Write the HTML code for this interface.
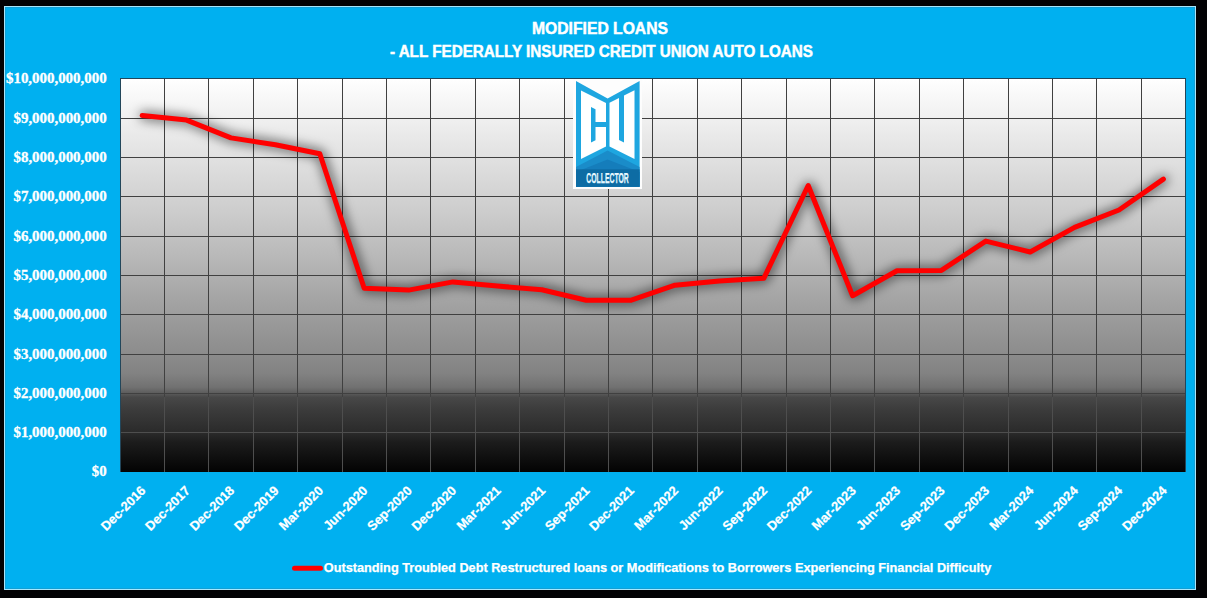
<!DOCTYPE html>
<html><head><meta charset="utf-8"><title>Modified Loans</title><style>
html,body{margin:0;padding:0;background:#000;}
body{width:1207px;height:598px;overflow:hidden;}
svg{display:block;}
.t{font-family:"Liberation Sans",sans-serif;font-weight:bold;fill:#fff;stroke:#fff;stroke-width:0.25px;}
.s{font-family:"Liberation Serif",serif;font-weight:bold;fill:#fff;stroke:#fff;stroke-width:0.3px;}
</style></head><body>
<svg width="1207" height="598" viewBox="0 0 1207 598">
<defs>
<linearGradient id="pg" x1="0" y1="0" x2="0" y2="1"><stop offset="0" stop-color="#ffffff"/><stop offset="0.35" stop-color="#cbcbcb"/><stop offset="0.63" stop-color="#989898"/><stop offset="0.7" stop-color="#8c8c8c"/><stop offset="0.75" stop-color="#828282"/><stop offset="0.785" stop-color="#717171"/><stop offset="0.8" stop-color="#5c5c5c"/><stop offset="0.81" stop-color="#484848"/><stop offset="0.84" stop-color="#3c3c3c"/><stop offset="0.9" stop-color="#2a2a2a"/><stop offset="0.925" stop-color="#1c1c1c"/><stop offset="1.0" stop-color="#030303"/></linearGradient>
<filter id="sh" x="-10%" y="-20%" width="120%" height="140%"><feGaussianBlur stdDeviation="6"/></filter>
</defs>
<rect x="0" y="0" width="1207" height="598" fill="#020204"/>
<rect x="4.5" y="6.5" width="1191" height="583" fill="#00b0f0" stroke="#a6e6fc" stroke-width="1"/>
<rect x="5.5" y="7.5" width="1189" height="581" fill="none" stroke="#12a0d6" stroke-width="1"/>
<rect x="120" y="78" width="1066" height="394" fill="url(#pg)"/>
<path d="M120,118.5H1186 M120,157.5H1186 M120,196.5H1186 M120,236.5H1186 M120,275.5H1186 M120,314.5H1186 M120,354.5H1186 M120,393.5H1186 M164.5,78V397 M208.5,78V397 M253.5,78V397 M297.5,78V397 M342.5,78V397 M386.5,78V397 M430.5,78V397 M475.5,78V397 M519.5,78V397 M564.5,78V397 M608.5,78V397 M652.5,78V397 M697.5,78V397 M741.5,78V397 M786.5,78V397 M830.5,78V397 M874.5,78V397 M919.5,78V397 M963.5,78V397 M1008.5,78V397 M1052.5,78V397 M1096.5,78V397 M1141.5,78V397" stroke="#404040" stroke-width="1" fill="none" shape-rendering="crispEdges"/>
<path d="M120,432.5H1186 M164.5,397V472 M208.5,397V472 M253.5,397V472 M297.5,397V472 M342.5,397V472 M386.5,397V472 M430.5,397V472 M475.5,397V472 M519.5,397V472 M564.5,397V472 M608.5,397V472 M652.5,397V472 M697.5,397V472 M741.5,397V472 M786.5,397V472 M830.5,397V472 M874.5,397V472 M919.5,397V472 M963.5,397V472 M1008.5,397V472 M1052.5,397V472 M1096.5,397V472 M1141.5,397V472" stroke="#4e4e4e" stroke-width="1" fill="none" shape-rendering="crispEdges"/>
<path d="M120,78.5H1186 M120.5,78V472 M1185.5,78V472" stroke="#22465a" stroke-width="1" fill="none"/>
<g id="logo"><rect x="573" y="79" width="69" height="110" fill="#fdfdfd"/><polygon points="576,81 607.6,98.6 639.6,81 639.6,186.8 576,186.8" fill="#1ea6e0"/><polygon points="581,90.5 606,103 606,146.5 581,159" fill="#ffffff"/><polygon points="609.5,102.8 634.5,90.3 634.5,159 609.5,146.5" fill="#ffffff"/><polygon points="591,107 595.5,109.3 595.5,122 606,122 606,127 595.5,127 595.5,140.3 591,142.5" fill="#1ea6e0"/><polygon points="619,97 624,94.5 624,142.5 619,140" fill="#1ea6e0"/><polygon points="576,167 607.6,150.5 639.6,167 639.6,186.8 576,186.8" fill="#1a8cc9"/><polygon points="576,172 607.6,159.5 639.6,172 639.6,186.8 576,186.8" fill="#157dbb"/><rect x="576" y="169.3" width="63.6" height="17.5" fill="#0d6ca4"/><text x="586.3" y="182.9" class="t" style="font-size:14px;fill:#dff6ff" textLength="42.5" lengthAdjust="spacingAndGlyphs">COLLECTOR</text></g>
<polyline transform="translate(1,0.3)" points="142.2,115.5 186.6,120.1 231.0,137.9 275.4,144.7 319.8,153.7 364.2,288.3 408.6,290.1 453.0,281.9 497.4,286.1 541.8,289.7 586.2,300.3 630.6,300.3 675.0,285.2 719.4,280.9 763.8,278.3 808.2,185.5 852.6,295.7 897.0,270.7 941.4,270.4 985.8,241.1 1030.2,252.0 1074.6,227.4 1119.0,210.0 1163.4,179.1" fill="none" stroke="#000" stroke-opacity="0.7" stroke-width="7" stroke-linejoin="round" stroke-linecap="round" filter="url(#sh)"/>
<polyline points="142.2,115.5 186.6,120.1 231.0,137.9 275.4,144.7 319.8,153.7 364.2,288.3 408.6,290.1 453.0,281.9 497.4,286.1 541.8,289.7 586.2,300.3 630.6,300.3 675.0,285.2 719.4,280.9 763.8,278.3 808.2,185.5 852.6,295.7 897.0,270.7 941.4,270.4 985.8,241.1 1030.2,252.0 1074.6,227.4 1119.0,210.0 1163.4,179.1" fill="none" stroke="#ff0000" stroke-width="5" stroke-linejoin="round" stroke-linecap="round"/>
<text x="600" y="33.8" class="t" text-anchor="middle" style="font-size:15.6px;stroke-width:0.45px" textLength="136" lengthAdjust="spacingAndGlyphs">MODIFIED LOANS</text>
<text x="601.4" y="57" class="t" text-anchor="middle" style="font-size:15.6px;stroke-width:0.45px" textLength="423" lengthAdjust="spacingAndGlyphs">- ALL FEDERALLY INSURED CREDIT UNION AUTO LOANS</text>
<text x="106.6" y="82.9" class="s" text-anchor="end" style="font-size:13.8px" textLength="100.6" lengthAdjust="spacingAndGlyphs">$10,000,000,000</text>
<text x="106.6" y="122.9" class="s" text-anchor="end" style="font-size:13.8px" textLength="93.1" lengthAdjust="spacingAndGlyphs">$9,000,000,000</text>
<text x="106.6" y="161.9" class="s" text-anchor="end" style="font-size:13.8px" textLength="93.1" lengthAdjust="spacingAndGlyphs">$8,000,000,000</text>
<text x="106.6" y="200.9" class="s" text-anchor="end" style="font-size:13.8px" textLength="93.1" lengthAdjust="spacingAndGlyphs">$7,000,000,000</text>
<text x="106.6" y="240.9" class="s" text-anchor="end" style="font-size:13.8px" textLength="93.1" lengthAdjust="spacingAndGlyphs">$6,000,000,000</text>
<text x="106.6" y="279.9" class="s" text-anchor="end" style="font-size:13.8px" textLength="93.1" lengthAdjust="spacingAndGlyphs">$5,000,000,000</text>
<text x="106.6" y="318.9" class="s" text-anchor="end" style="font-size:13.8px" textLength="93.1" lengthAdjust="spacingAndGlyphs">$4,000,000,000</text>
<text x="106.6" y="358.9" class="s" text-anchor="end" style="font-size:13.8px" textLength="93.1" lengthAdjust="spacingAndGlyphs">$3,000,000,000</text>
<text x="106.6" y="397.9" class="s" text-anchor="end" style="font-size:13.8px" textLength="93.1" lengthAdjust="spacingAndGlyphs">$2,000,000,000</text>
<text x="106.6" y="436.9" class="s" text-anchor="end" style="font-size:13.8px" textLength="93.1" lengthAdjust="spacingAndGlyphs">$1,000,000,000</text>
<text x="106.6" y="475.9" class="s" text-anchor="end" style="font-size:13.8px" textLength="14.8" lengthAdjust="spacingAndGlyphs">$0</text>
<text transform="translate(146.4,491.4) rotate(-45)" class="t xl" text-anchor="end" style="font-size:12.95px">Dec-2016</text>
<text transform="translate(190.8,491.4) rotate(-45)" class="t xl" text-anchor="end" style="font-size:12.95px">Dec-2017</text>
<text transform="translate(235.2,491.4) rotate(-45)" class="t xl" text-anchor="end" style="font-size:12.95px">Dec-2018</text>
<text transform="translate(279.6,491.4) rotate(-45)" class="t xl" text-anchor="end" style="font-size:12.95px">Dec-2019</text>
<text transform="translate(324.0,491.4) rotate(-45)" class="t xl" text-anchor="end" style="font-size:12.95px">Mar-2020</text>
<text transform="translate(368.4,491.4) rotate(-45)" class="t xl" text-anchor="end" style="font-size:12.95px">Jun-2020</text>
<text transform="translate(412.8,491.4) rotate(-45)" class="t xl" text-anchor="end" style="font-size:12.95px">Sep-2020</text>
<text transform="translate(457.2,491.4) rotate(-45)" class="t xl" text-anchor="end" style="font-size:12.95px">Dec-2020</text>
<text transform="translate(501.6,491.4) rotate(-45)" class="t xl" text-anchor="end" style="font-size:12.95px">Mar-2021</text>
<text transform="translate(546.0,491.4) rotate(-45)" class="t xl" text-anchor="end" style="font-size:12.95px">Jun-2021</text>
<text transform="translate(590.4,491.4) rotate(-45)" class="t xl" text-anchor="end" style="font-size:12.95px">Sep-2021</text>
<text transform="translate(634.8,491.4) rotate(-45)" class="t xl" text-anchor="end" style="font-size:12.95px">Dec-2021</text>
<text transform="translate(679.2,491.4) rotate(-45)" class="t xl" text-anchor="end" style="font-size:12.95px">Mar-2022</text>
<text transform="translate(723.6,491.4) rotate(-45)" class="t xl" text-anchor="end" style="font-size:12.95px">Jun-2022</text>
<text transform="translate(768.0,491.4) rotate(-45)" class="t xl" text-anchor="end" style="font-size:12.95px">Sep-2022</text>
<text transform="translate(812.4,491.4) rotate(-45)" class="t xl" text-anchor="end" style="font-size:12.95px">Dec-2022</text>
<text transform="translate(856.8,491.4) rotate(-45)" class="t xl" text-anchor="end" style="font-size:12.95px">Mar-2023</text>
<text transform="translate(901.2,491.4) rotate(-45)" class="t xl" text-anchor="end" style="font-size:12.95px">Jun-2023</text>
<text transform="translate(945.6,491.4) rotate(-45)" class="t xl" text-anchor="end" style="font-size:12.95px">Sep-2023</text>
<text transform="translate(990.0,491.4) rotate(-45)" class="t xl" text-anchor="end" style="font-size:12.95px">Dec-2023</text>
<text transform="translate(1034.4,491.4) rotate(-45)" class="t xl" text-anchor="end" style="font-size:12.95px">Mar-2024</text>
<text transform="translate(1078.8,491.4) rotate(-45)" class="t xl" text-anchor="end" style="font-size:12.95px">Jun-2024</text>
<text transform="translate(1123.2,491.4) rotate(-45)" class="t xl" text-anchor="end" style="font-size:12.95px">Sep-2024</text>
<text transform="translate(1167.6,491.4) rotate(-45)" class="t xl" text-anchor="end" style="font-size:12.95px">Dec-2024</text>
<line x1="294.5" y1="568.3" x2="320.5" y2="568.3" stroke="#ff0000" stroke-width="5" stroke-linecap="round"/>
<text x="323.8" y="572.3" class="t" style="font-size:12px" textLength="667.5" lengthAdjust="spacingAndGlyphs">Outstanding Troubled Debt Restructured loans or Modifications to Borrowers Experiencing Financial Difficulty</text>
</svg>
</body></html>
